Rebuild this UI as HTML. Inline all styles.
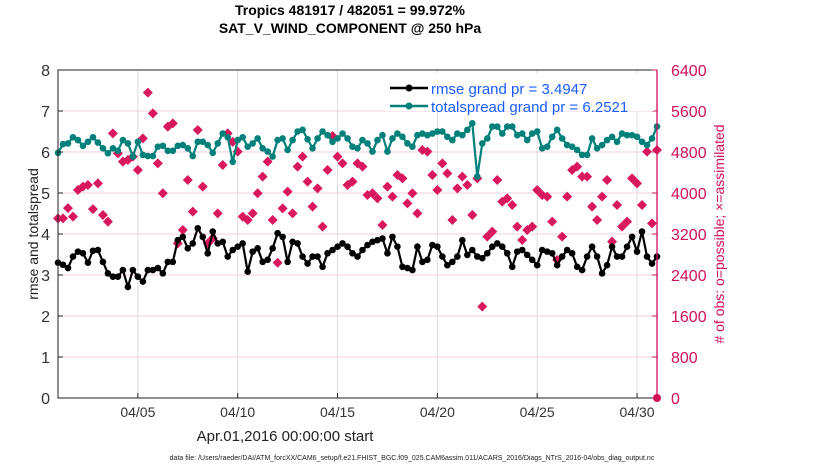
<!DOCTYPE html>
<html><head><meta charset="utf-8"><style>
body{margin:0;background:#fff;width:830px;height:470px;overflow:hidden;font-family:"Liberation Sans",sans-serif}
</style></head><body>
<svg width="830" height="470" font-family="Liberation Sans, sans-serif">
<g id="grid"></g>
<g id="marks"></g>
<g id="axes"></g>
<text x="350" y="15" text-anchor="middle" font-size="14" font-weight="bold">Tropics 481917 / 482051 = 99.972%</text>
<text x="350" y="33" text-anchor="middle" font-size="14" font-weight="bold">SAT_V_WIND_COMPONENT @ 250 hPa</text>
<text x="285" y="441" text-anchor="middle" font-size="15" fill="#222">Apr.01,2016 00:00:00 start</text>
<text transform="translate(38,234) rotate(-90)" text-anchor="middle" font-size="14" fill="#222">rmse and totalspread</text>
<text transform="translate(724,234) rotate(-90)" text-anchor="middle" font-size="14" fill="#d0105a"># of obs: o=possible; ×=assimilated</text>
<text x="412" y="460" text-anchor="middle" font-size="7" fill="#222">data file: /Users/raeder/DAI/ATM_forcXX/CAM6_setup/f.e21.FHIST_BGC.f09_025.CAM6assim.011/ACARS_2016/Diags_NTrS_2016-04/obs_diag_output.nc</text>
<g>
<rect x="386" y="73" width="268" height="38" fill="#fff"/>
<line x1="390" y1="88" x2="428" y2="88" stroke="#000" stroke-width="2.5"/>
<circle cx="409" cy="88" r="3.5" fill="#000"/>
<text x="431" y="94" font-size="15" fill="#1a5cff">rmse grand pr = 3.4947</text>
<line x1="390" y1="106" x2="428" y2="106" stroke="#00807a" stroke-width="2.5"/>
<circle cx="409" cy="106" r="3.5" fill="#00807a"/>
<text x="431" y="112" font-size="15" fill="#1a5cff">totalspread grand pr = 6.2521</text>
</g>
</svg>
<script>
const rmse=[3.30,3.25,3.17,3.45,3.57,3.53,3.30,3.59,3.61,3.32,3.04,2.96,2.96,3.12,2.71,3.12,2.96,2.84,3.12,3.12,3.17,3.04,3.32,3.32,3.85,3.93,3.65,3.77,4.14,3.93,3.53,4.06,3.77,3.81,3.45,3.61,3.69,3.77,3.08,3.57,3.65,
3.32,3.37,3.65,4.02,3.93,3.32,3.81,3.77,3.45,3.28,3.45,3.45,3.20,3.53,3.61,3.69,3.77,3.69,3.53,3.45,3.61,3.73,3.81,3.85,3.89,3.53,3.93,3.69,3.20,3.17,3.12,3.69,3.32,3.37,3.73,3.69,3.45,3.24,3.32,
3.45,3.85,3.49,3.61,3.45,3.41,3.53,3.69,3.77,3.69,3.53,3.20,3.57,3.61,3.49,3.37,3.24,3.61,3.57,3.53,3.24,3.45,3.61,3.53,3.20,3.12,3.45,3.69,3.45,3.04,3.24,3.69,3.45,3.45,3.69,3.93,3.57,4.06,3.45,3.28,3.45];
const spread=[5.98,6.19,6.21,6.36,6.29,6.15,6.25,6.36,6.23,6.09,5.97,6.09,6.03,6.29,6.21,5.89,6.25,5.93,5.90,5.90,6.13,6.15,6.03,6.03,6.15,6.17,6.09,5.90,6.25,6.25,6.17,5.98,6.21,6.45,6.36,5.76,6.29,6.36,6.13,6.21,
6.33,6.09,6.01,5.89,6.29,6.33,6.05,6.29,6.50,6.54,6.31,6.09,6.33,6.50,6.41,6.25,6.33,6.45,6.33,6.13,6.09,6.29,6.21,6.01,6.29,6.41,6.01,6.33,6.45,6.37,6.21,6.13,6.41,6.45,6.41,6.45,6.50,6.50,6.37,6.29,
6.45,6.41,6.54,6.70,5.40,6.21,6.33,6.62,6.62,6.45,6.62,6.62,6.41,6.45,6.29,6.45,6.50,6.09,6.13,6.37,6.54,6.33,6.17,6.13,6.05,5.93,5.93,6.33,6.09,6.17,6.29,6.37,6.25,6.45,6.41,6.41,6.37,6.25,6.17,6.33,6.62];
const assimilated=[3506,3506,3705,3538,4059,4124,4157,3685,4189,3571,3441,5164,4774,4611,4644,4709,4449,5067,5958,5554,4579,3994,5294,5359,3018,3278,4254,3636,5229,4124,3018,3116,3603,4546,5164,4998,4807,3538,3473,3603,
3994,4319,4611,3473,2640,3701,4026,3603,4514,4709,4222,3733,4091,3343,4449,5112,4709,4579,4157,4222,4579,4514,3961,3994,3896,3376,4124,3929,4351,4286,3798,3994,3603,4839,4807,4351,4059,4579,4384,3473,
4091,4319,4157,3571,4286,1782,3148,3246,4254,3831,3896,3766,3343,3083,3278,3343,4059,3961,3929,3441,2693,3148,3929,4449,4514,4319,4319,3733,3473,3929,4254,3051,3766,3343,3441,4286,4189,3766,4807,3408,4839];
const yTicks=[0,1,2,3,4,5,6,7,8];
const y2Ticks=[0,800,1600,2400,3200,4000,4800,5600,6400];
const xTickDays=[5,10,15,20,25,30];
const xTickLabels=['04/05','04/10','04/15','04/20','04/25','04/30'];
const startDay=1, stepDay=0.25;

const L=58,R=657,T=70,B=398;
const X=d=>L+(d-1)*(R-L)/30;
const Y=v=>B-v*(B-T)/8;
const Y2=c=>B-c*(B-T)/6400;
const NS='http://www.w3.org/2000/svg';
function mk(tag,attrs,parent){const e=document.createElementNS(NS,tag);for(const k in attrs)e.setAttribute(k,attrs[k]);parent.appendChild(e);return e;}
const grid=document.getElementById('grid'),marks=document.getElementById('marks'),axes=document.getElementById('axes');

yTicks.forEach(v=>{if(v>0&&v<8){const g=mk('line',{x1:L,x2:R,y1:Y(v),y2:Y(v),stroke:'#f2cfdc','stroke-width':1},grid);

}});
xTickDays.forEach((d,i)=>{const g=mk('line',{x1:X(d),x2:X(d),y1:T,y2:B,stroke:'#ddd','stroke-width':1},grid);


const tk=mk('line',{x1:X(d),x2:X(d),y1:B,y2:B-5,stroke:'#222'},axes);


const t=mk('text',{x:X(d),y:B+19,'text-anchor':'middle','font-size':14,fill:'#333'},axes);t.textContent=xTickLabels[i];

});

assimilated.forEach((c,i)=>{const x=X(startDay+i*stepDay),y=Y2(c);
const p=mk('path',{d:`M${x} ${y-5}L${x+5} ${y}L${x} ${y+5}L${x-5} ${y}Z`,fill:'#d8175e'},marks);

});

function series(arr,color,name){
const pts=arr.map((v,i)=>X(startDay+i*stepDay)+','+Y(v)).join(' ');
const pl=mk('polyline',{points:pts,fill:'none',stroke:color,'stroke-width':2.2},marks);


arr.forEach((v,i)=>{const c=mk('circle',{cx:X(startDay+i*stepDay),cy:Y(v),r:3.3,fill:color},marks);

});}
series(spread,'#00807a','spread');
series(rmse,'#000','rmse');

const fr=mk('rect',{x:L,y:T,width:R-L,height:B-T,fill:'none',stroke:'#222','stroke-width':1},axes);


const ra=mk('line',{x1:R,x2:R,y1:T,y2:B,stroke:'#d0105a','stroke-width':1.3},axes);


yTicks.forEach(v=>{const tk=mk('line',{x1:L,x2:L+5,y1:Y(v),y2:Y(v),stroke:'#222'},axes);


const t=mk('text',{x:L-8,y:Y(v)+6,'text-anchor':'end','font-size':16,fill:'#333'},axes);t.textContent=v;

});
y2Ticks.forEach(c=>{const tk=mk('line',{x1:R-5,x2:R,y1:Y2(c),y2:Y2(c),stroke:'#d0105a'},axes);


const t=mk('text',{x:R+14,y:Y2(c)+6,'font-size':16,fill:'#d0105a'},axes);t.textContent=c;

});
const dot=mk('circle',{cx:R,cy:B,r:4,fill:'#d0105a'},axes);


</script>
</body></html>
